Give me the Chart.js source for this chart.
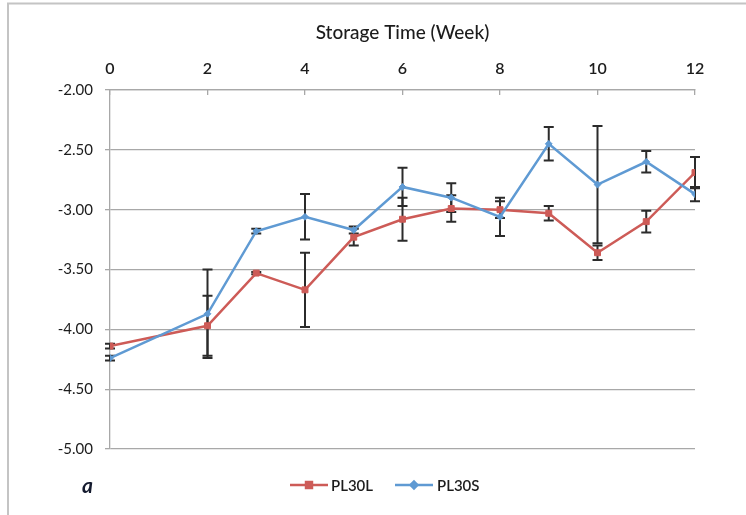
<!DOCTYPE html>
<html>
<head>
<meta charset="utf-8">
<script src="https://cdn.jsdelivr.net/npm/chart.js@4.4.1/dist/chart.umd.min.js"></script>
<style>
  html, body { margin: 0; padding: 0; background: #ffffff; }
  #c { display: block; }
</style>
</head>
<body>
<canvas id="c" width="746" height="515"></canvas>
<script>
// Storage time in weeks
const weeks = [0, 2, 3, 4, 5, 6, 7, 8, 9, 10, 11, 12];

// PL30L: mean and standard deviation
const pl30lMean = [-4.14, -3.97, -3.53, -3.67, -3.23, -3.08, -2.99, -3.00, -3.03, -3.36, -3.10, -2.69];
const pl30lErr  = [0.02, 0.25, 0.01, 0.31, 0.07, 0.18, 0.11, 0.07, 0.06, 0.06, 0.09, 0.13];

// PL30S: mean and standard deviation
const pl30sMean = [-4.24, -3.87, -3.18, -3.06, -3.17, -2.81, -2.90, -3.06, -2.45, -2.79, -2.60, -2.87];
const pl30sErr  = [0.02, 0.37, 0.02, 0.19, 0.03, 0.16, 0.12, 0.16, 0.14, 0.49, 0.09, 0.06];

// Labelled weeks on the top axis
const weekTicks = [0, 2, 4, 6, 8, 10, 12];

const seriesNames = ['PL30L', 'PL30S'];
const xAxisTitle = 'Storage Time (Week)';
const panelLabel = 'a';

const RED = '#cd5b57';
const BLUE = '#5f9ad3';
const GRID = '#a8a8a8';
const TEXT = '#1c1c1c';
const FONT = 'Lato, "Open Sans", "Liberation Sans", sans-serif';

const toPoints = (means) => weeks.map((w, i) => ({ x: w, y: means[i] }));

// Vertical error bars with caps, drawn under the lines and markers
const errorBars = {
  id: 'errorBars',
  beforeDatasetsDraw(chart) {
    const { ctx, scales: { y } } = chart;
    const errs = [pl30lErr, pl30sErr];
    ctx.save();
    ctx.strokeStyle = '#2b2b2b';
    ctx.lineWidth = 2;
    chart.data.datasets.forEach((ds, di) => {
      const meta = chart.getDatasetMeta(di);
      meta.data.forEach((pt, j) => {
        const v = ds.data[j].y;
        const e = errs[di][j];
        const yt = y.getPixelForValue(v + e);
        const yb = y.getPixelForValue(v - e);
        const x = pt.x;
        ctx.beginPath();
        ctx.moveTo(x, yt); ctx.lineTo(x, yb);
        ctx.moveTo(x - 5, yt); ctx.lineTo(x + 5, yt);
        ctx.moveTo(x - 5, yb); ctx.lineTo(x + 5, yb);
        ctx.stroke();
      });
    });
    ctx.restore();
  }
};

// Outer frame, legend row and panel letter
const decorations = {
  id: 'decorations',
  beforeDraw(chart) {
    const { ctx } = chart;
    ctx.save();
    ctx.strokeStyle = '#c4c4c4';
    ctx.lineWidth = 2;
    ctx.beginPath();
    ctx.moveTo(746, 3.5); ctx.lineTo(8, 3.5); ctx.lineTo(8, 515);
    ctx.stroke();
    ctx.restore();
  },
  afterDraw(chart) {
    const { ctx } = chart;
    const ds = chart.data.datasets;
    const ly = 485;
    const items = [
      { x0: 290, x1: 328, tx: 331, style: 'rect', ds: ds[0] },
      { x0: 395, x1: 433, tx: 437, style: 'rectRot', ds: ds[1] }
    ];
    ctx.save();
    items.forEach(it => {
      ctx.strokeStyle = it.ds.borderColor;
      ctx.lineWidth = 2.5;
      ctx.beginPath();
      ctx.moveTo(it.x0, ly); ctx.lineTo(it.x1, ly);
      ctx.stroke();
      Chart.helpers.drawPoint(ctx, {
        pointStyle: it.style, radius: it.ds.pointRadius, rotation: 0, borderWidth: 1
      }, (it.x0 + it.x1) / 2, ly);
      ctx.fillStyle = it.ds.borderColor;
      ctx.fill();
      ctx.fillStyle = TEXT;
      ctx.font = '600 15px ' + FONT;
      ctx.textAlign = 'left';
      ctx.textBaseline = 'middle';
      ctx.fillText(it.ds.label, it.tx, ly + 1);
    });
    ctx.font = 'italic bold 21px ' + FONT;
    ctx.fillStyle = '#141a2e';
    ctx.textAlign = 'left';
    ctx.textBaseline = 'middle';
    ctx.fillText(panelLabel, 82, 486);
    ctx.restore();
  }
};

new Chart(document.getElementById('c'), {
  type: 'line',
  data: {
    datasets: [
      {
        label: seriesNames[0],
        data: toPoints(pl30lMean),
        borderColor: RED,
        backgroundColor: RED,
        borderWidth: 2.5,
        pointStyle: 'rect',
        pointRadius: 4.2,
        pointBorderWidth: 1,
        tension: 0,
        order: 1
      },
      {
        label: seriesNames[1],
        data: toPoints(pl30sMean),
        borderColor: BLUE,
        backgroundColor: BLUE,
        borderWidth: 2.5,
        pointStyle: 'rectRot',
        pointRadius: 3.4,
        pointBorderWidth: 1,
        tension: 0,
        order: 0
      }
    ]
  },
  options: {
    responsive: false,
    animation: false,
    devicePixelRatio: 1,
    layout: { padding: { left: 0, right: 51, top: 0, bottom: 66 } },
    plugins: {
      legend: { display: false },
      tooltip: { enabled: false }
    },
    scales: {
      x: {
        type: 'linear',
        position: 'top',
        min: 0,
        max: 12,
        afterFit(scale) { scale.height = 90; },
        afterBuildTicks(scale) { scale.ticks = weekTicks.map(v => ({ value: v })); },
        ticks: {
          color: TEXT,
          font: { family: FONT, size: 16, weight: '600' },
          padding: 17,
          maxRotation: 0
        },
        grid: {
          drawOnChartArea: false,
          drawTicks: true,
          tickLength: -5,
          color: GRID,
          lineWidth: 1.3
        },
        border: { display: true, color: GRID, width: 1.3 },
        title: {
          display: true,
          text: xAxisTitle,
          color: TEXT,
          font: { family: FONT, size: 19, weight: '500' },
          padding: { top: 21, bottom: 0 }
        }
      },
      y: {
        type: 'linear',
        min: -5,
        max: -2,
        afterFit(scale) { scale.width = 110; },
        ticks: {
          stepSize: 0.5,
          color: TEXT,
          font: { family: FONT, size: 15 },
          padding: 12,
          callback: (v) => v.toFixed(2)
        },
        grid: {
          color: GRID,
          lineWidth: 1.3,
          tickLength: 5
        },
        border: { display: true, color: GRID, width: 1.3 }
      }
    }
  },
  plugins: [errorBars, decorations]
});
</script>
</body>
</html>
